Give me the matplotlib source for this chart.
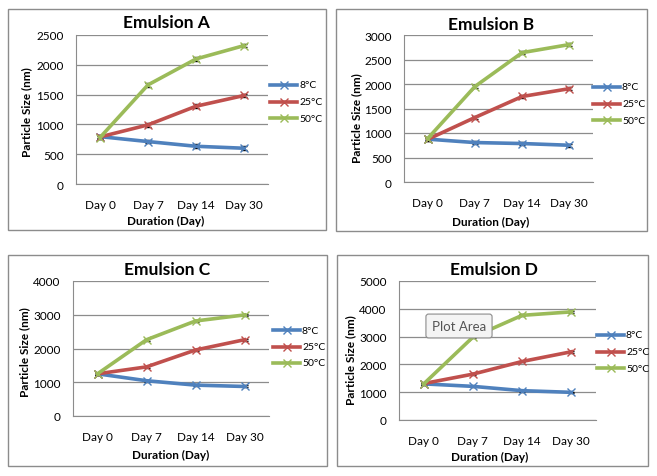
import matplotlib
matplotlib.use("Agg")
import matplotlib.pyplot as plt
from matplotlib.patches import Rectangle
import numpy as np

plt.rcParams['font.family'] = ['Lato', 'DejaVu Sans']

days = ['Day 0', 'Day 7', 'Day 14', 'Day 30']
temps = ['8°C', '25°C', '50°C']
colors = ['#4F81BD', '#C0504D', '#9BBB59']

# particle size (nm) per emulsion, rows = 8, 25, 50 °C
emul_a = [[795, 712, 633, 600], [790, 992, 1305, 1485], [780, 1663, 2098, 2322]]
emul_b = [[875, 805, 785, 750], [870, 1316, 1745, 1905], [886, 1948, 2640, 2805]]
emul_c = [[1250, 1045, 915, 875], [1250, 1455, 1955, 2260], [1250, 2260, 2815, 2995]]
emul_d = [[1300, 1210, 1055, 995], [1310, 1650, 2105, 2455], [1295, 2980, 3765, 3890]]
err = [30, 30, 30, 30]

panels = [
    ('Emulsion A', emul_a, 2500, 500),
    ('Emulsion B', emul_b, 3000, 500),
    ('Emulsion C', emul_c, 4000, 1000),
    ('Emulsion D', emul_d, 5000, 1000),
]

W, H = 657, 477
fig = plt.figure(figsize=(W / 100, H / 100), dpi=100)

def fx(px):
    return px / W

def fy(py):
    return 1 - py / H

# pixel layout: plot box (l, r, t, b), frame (l, r, t, b), title xy, xlabel xy, ylabel xy, legend x, legend y0
layout = [
    ((76, 268, 36, 185), (8, 326, 10, 231), (166, 23), (166, 221), (27, 112), 270, 86),
    ((404, 593, 36, 183), (336, 647, 10, 232), (491, 25), (491, 222), (357, 118), 593, 88),
    ((73, 269, 282, 417), (8, 327, 256, 467), (167, 270), (171, 455), (25, 352), 273, 331),
    ((399, 596, 282, 421), (337, 648, 256, 467), (494, 270), (490, 457), (351, 360), 597, 336),
]

for (title, data, ymax, step), lay in zip(panels, layout):
    (l, r, t, b), (fl, fr, ft, fb), tpos, xlpos, ylpos, lgx, lgy = lay
    fig.patches.append(Rectangle((fx(fl), fy(fb)), fx(fr - fl), (fb - ft) / H,
                                 transform=fig.transFigure, fill=False,
                                 edgecolor='#8c8c8c', linewidth=1.0))
    ax = fig.add_axes([fx(l), fy(b), fx(r - l), (b - t) / H])
    x = np.arange(len(days))
    for vals, c, lab in zip(data, colors, temps):
        ax.errorbar(x, vals, yerr=err, color=c, linewidth=2.6, marker='x',
                    markersize=6, markeredgewidth=1.0, ecolor='black',
                    elinewidth=1.0, capsize=2.5, label=lab, zorder=3)
    ax.set_xlim(-0.5, 3.5)
    ax.set_ylim(0, ymax)
    ax.set_yticks(np.arange(0, ymax + 1, step))
    ax.set_xticks(x)
    ax.set_xticklabels(days)
    ax.yaxis.grid(True, color='#8c8c8c', linewidth=0.9)
    ax.set_axisbelow(True)
    for s in ['top', 'right']:
        ax.spines[s].set_visible(False)
    for s in ['left', 'bottom']:
        ax.spines[s].set_color('#8c8c8c')
    ax.tick_params(length=0, labelsize=8.5)
    ax.tick_params(axis='x', pad=11)
    ax.tick_params(axis='y', pad=9)
    fig.text(fx(tpos[0]), fy(tpos[1]), title, ha='center', va='center',
             fontsize=12.5, fontweight='bold')
    fig.text(fx(xlpos[0]), fy(xlpos[1]), 'Duration (Day)', ha='center',
             va='center', fontsize=8.5, fontweight='bold')
    fig.text(fx(ylpos[0]), fy(ylpos[1]), 'Particle Size (nm)', ha='center',
             va='center', fontsize=8.5, fontweight='bold', rotation=90)
    # legend drawn by hand to sit outside the plot box
    for i, (c, lab) in enumerate(zip(colors, temps)):
        yy = fy(lgy + i * 16.5)
        fig.add_artist(plt.Line2D([fx(lgx), fx(lgx + 27)], [yy, yy], color=c,
                                  linewidth=2.6, transform=fig.transFigure))
        fig.add_artist(plt.Line2D([fx(lgx + 13.5)], [yy], color=c, marker='x',
                                  markersize=6, markeredgewidth=1.0,
                                  transform=fig.transFigure))
        fig.text(fx(lgx + 29), yy, lab, ha='left', va='center', fontsize=7.5)

# tooltip visible in the screenshot
fig.text(fx(459), fy(327), 'Plot Area', ha='center', va='center', fontsize=9.5,
         color='#555555',
         bbox=dict(boxstyle='round,pad=0.45,rounding_size=0.2', facecolor='#f4f4f4',
                   edgecolor='#8c8c8c', linewidth=0.8))

fig.savefig('out.png', dpi=100)
